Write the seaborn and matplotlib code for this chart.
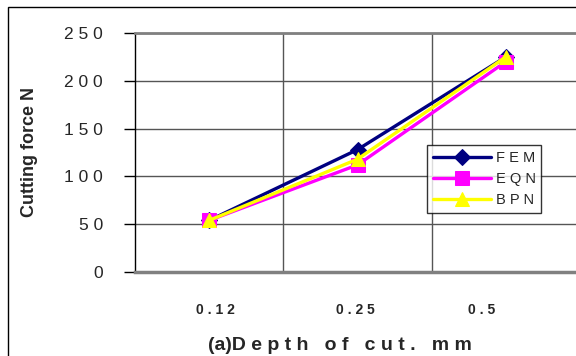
import matplotlib
matplotlib.use("Agg")
import matplotlib.pyplot as plt
import matplotlib.transforms as mtransforms
import seaborn as sns
import pandas as pd
from matplotlib.patches import Rectangle

sns.set_style("white")
plt.rcParams['font.family'] = ['Liberation Sans', 'DejaVu Sans']

depth = ["0.12", "0.25", "0.5"]
fem = [54, 128, 225]
eqn = [54, 112, 220]
bpn = [54, 118, 225]
y_ticks = [0, 50, 100, 150, 200, 250]

series = {"FEM": fem, "EQN": eqn, "BPN": bpn}
colors = {"FEM": "#000080", "EQN": "#FF00FF", "BPN": "#FFFF00"}
markers = {"FEM": "D", "EQN": "s", "BPN": "^"}
msize = {"FEM": 8, "EQN": 9.5, "BPN": 10}

df = pd.DataFrame([
    {"depth": d, "force": v, "method": name}
    for name, vals in series.items()
    for d, v in zip(depth, vals)
])

fig = plt.figure(figsize=(5.76, 3.56), dpi=100)
ax = fig.add_axes([135 / 576, 84 / 356, 445 / 576, 239 / 356])

for name in series:
    sub = df[df["method"] == name]
    sns.lineplot(data=sub, x="depth", y="force", ax=ax, color=colors[name],
                 marker=markers[name], markersize=msize[name],
                 markeredgecolor=colors[name], linewidth=2.4,
                 label=" ".join(name), sort=False)

ax.set_xlim(-0.5, 2.5)
ax.set_ylim(0, 250)
ax.set_xticks(range(len(depth)))
ax.set_xticklabels([" ".join(d) for d in depth], fontsize=10, fontweight="bold")
ax.set_xticks([0.5, 1.5], minor=True)
ax.set_yticks(y_ticks)
ax.set_yticklabels([" ".join(str(t)) for t in y_ticks], fontsize=12.5)
ax.tick_params(axis="x", which="both", length=0, pad=22)
ax.tick_params(axis="y", length=8, width=1, color="black", direction="out",
               left=True, pad=15)
ax.set_xlabel("")
ax.set_ylabel("")

# tick labels in the source sit a little off the category centres
for lab, dx in zip(ax.get_xticklabels(), [6, -2, -24]):
    lab.set_transform(lab.get_transform() +
                      mtransforms.ScaledTranslation(dx / 100, 0, fig.dpi_scale_trans))

ax.grid(False)
ax.yaxis.grid(True, color="#555555", linewidth=1)
ax.xaxis.grid(True, which="minor", color="#555555", linewidth=1)
ax.set_axisbelow(True)

ax.spines["left"].set_color("black")
ax.spines["left"].set_linewidth(1)
ax.spines["bottom"].set_color("#808080")
ax.spines["bottom"].set_linewidth(2.5)
ax.spines["top"].set_color("#808080")
ax.spines["top"].set_linewidth(2)
ax.spines["right"].set_visible(False)

leg = ax.legend(loc="upper left", bbox_to_anchor=((427 - 135) / 445, (272 - 145) / 239),
                frameon=True, fancybox=False, fontsize=10.5, handlelength=4.0,
                handletextpad=0.3, borderpad=0.4, labelspacing=0.5, borderaxespad=0)
leg.get_frame().set_edgecolor("black")
leg.get_frame().set_linewidth(1)

fig.text(30 / 576, 0.572, "Cutting force N", rotation=90, ha="center", va="center",
         fontsize=13, fontweight="bold")
fig.text(340 / 576, 10 / 356, "(a)D e p t h   o f   c u t .   m m", ha="center",
         va="center", fontsize=14, fontweight="bold")

fig.patches.append(Rectangle((8 / 576, -0.1), 1.2, (349 / 356) + 0.1,
                             transform=fig.transFigure, fill=False,
                             edgecolor="black", linewidth=1))

fig.savefig("out.png", dpi=100)
